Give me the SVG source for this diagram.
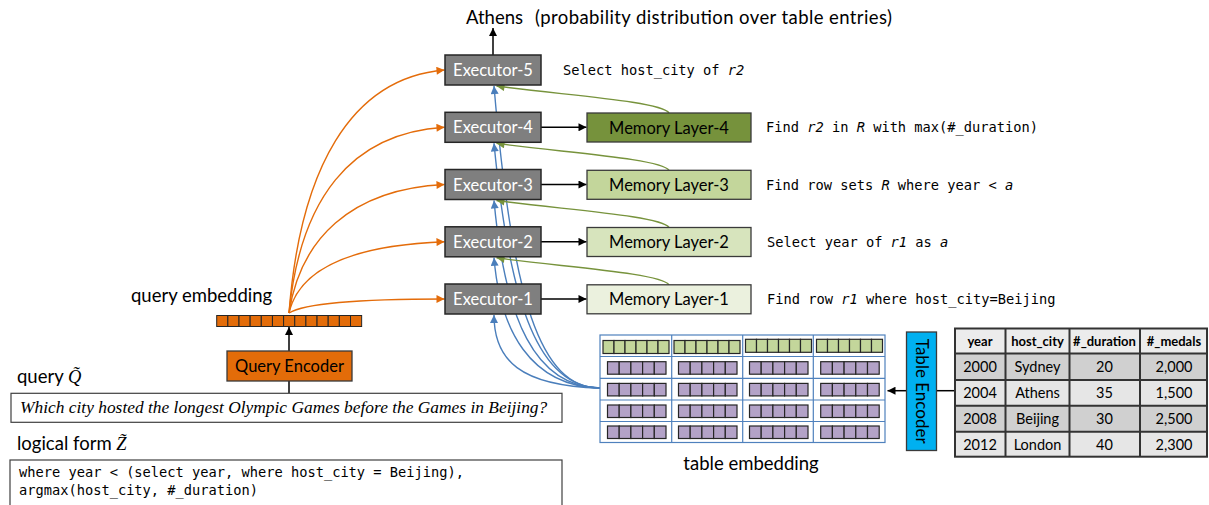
<svg xmlns="http://www.w3.org/2000/svg" width="1209" height="505" viewBox="0 0 1209 505">
  <style>
    .sans { font-family: Lato, "Liberation Sans", sans-serif; }
    .mono { font-family: "DejaVu Sans Mono", "Liberation Mono", monospace; font-size: 13.7px; fill: #000; }
    .exec rect { fill: #7f7f7f; stroke: #262626; stroke-width: 1.5; }
    .exec text { fill: #fff; font-size: 16.5px; text-anchor: middle; }
    .mem rect { stroke: #3a3a3a; stroke-width: 1.3; }
    .mem text { fill: #000; font-size: 16.5px; text-anchor: middle; }
    .orange { fill: none; stroke: #e46c0a; stroke-width: 1.4; marker-end: url(#ah-orange); }
    .blue { fill: none; stroke: #4a7ebb; stroke-width: 1.4; marker-end: url(#ah-blue); }
    .green { fill: none; stroke: #77933c; stroke-width: 1.4; marker-end: url(#ah-green); }
    .black { fill: none; stroke: #000; stroke-width: 1.5; }
    .arrow { marker-end: url(#ah-black); }
    .qcell { fill: #e36c09; stroke: #262626; stroke-width: 1; }
    .gcell { fill: #c3d69b; stroke: #262626; stroke-width: 1.2; }
    .pcell { fill: #b3a2c7; stroke: #262626; stroke-width: 1.2; }
    .grid { fill: none; stroke: #4f81bd; stroke-width: 1.2; }
    .tbl text { font-size: 14.5px; text-anchor: middle; fill: #000; }
    .tbl .hd { font-weight: bold; font-size: 13px; }
    .tline { stroke: #333; stroke-width: 2; }
  </style>
  <defs>
    <marker id="ah-black" viewBox="0 0 10 10" refX="10" refY="5" markerWidth="10" markerHeight="8" markerUnits="userSpaceOnUse" orient="auto">
      <path d="M0,0 L10,5 L0,10 z" fill="#000"/>
    </marker>
    <marker id="ah-orange" viewBox="0 0 10 10" refX="10" refY="5" markerWidth="10" markerHeight="8" markerUnits="userSpaceOnUse" orient="auto">
      <path d="M0,0 L10,5 L0,10 z" fill="#e46c0a"/>
    </marker>
    <marker id="ah-blue" viewBox="0 0 10 10" refX="10" refY="5" markerWidth="10" markerHeight="8" markerUnits="userSpaceOnUse" orient="auto">
      <path d="M0,0 L10,5 L0,10 z" fill="#4a7ebb"/>
    </marker>
    <marker id="ah-green" viewBox="0 0 10 10" refX="10" refY="5" markerWidth="10" markerHeight="8" markerUnits="userSpaceOnUse" orient="auto">
      <path d="M0,0 L10,5 L0,10 z" fill="#77933c"/>
    </marker>
    <!-- one embedding slot: 6 green squares (header) / 5 purple squares (cell) -->
    <g id="hdr-vec">
      <rect class="gcell" x="0" y="0" width="11" height="13"/>
      <rect class="gcell" x="11" y="0" width="11" height="13"/>
      <rect class="gcell" x="22" y="0" width="11" height="13"/>
      <rect class="gcell" x="33" y="0" width="11" height="13"/>
      <rect class="gcell" x="44" y="0" width="11" height="13"/>
      <rect class="gcell" x="55" y="0" width="11" height="13"/>
    </g>
    <g id="cell-vec">
      <rect class="pcell" x="0" y="0" width="11.7" height="12.5"/>
      <rect class="pcell" x="11.7" y="0" width="11.7" height="12.5"/>
      <rect class="pcell" x="23.4" y="0" width="11.7" height="12.5"/>
      <rect class="pcell" x="35.1" y="0" width="11.7" height="12.5"/>
      <rect class="pcell" x="46.8" y="0" width="11.7" height="12.5"/>
    </g>
  </defs>

  <rect x="0" y="0" width="1209" height="505" fill="#fff"/>

  <!-- connectors -->
  <g id="connectors">
    <!-- query embedding to each executor -->
    <path class="orange" d="M289,313 C300,170 350,78 444.5,70"/>
    <path class="orange" d="M289,313 C300,200 350,133 444.5,127.3"/>
    <path class="orange" d="M289,313 C300,240 350,189 444.5,184.5"/>
    <path class="orange" d="M289,313 C300,265 360,245 444.5,241.8"/>
    <path class="orange" d="M289,313 C308,301 380,299 444.5,299"/>

    <!-- table embedding to each executor -->
    <path class="blue" d="M600,388 C540,388 512,300 494,86"/>
    <path class="blue" d="M600,388 C540,387 510,310 494,143.3"/>
    <path class="blue" d="M600,388 C535,387 505,320 494,200.5"/>
    <path class="blue" d="M600,388 C530,386 500,330 494,257.8"/>
    <path class="blue" d="M600,388 C520,386 494,360 494,315"/>

    <!-- memory layers feeding the next executor -->
    <path class="green" d="M669,113 C661,101 560,95 496.5,86"/>
    <path class="green" d="M669,170.3 C661,158.3 560,152.3 496.5,143.3"/>
    <path class="green" d="M669,227.5 C661,215.5 560,209.5 496.5,200.5"/>
    <path class="green" d="M669,284.8 C661,272.8 560,266.8 496.5,257.8"/>

    <!-- executor to memory layer -->
    <line class="black arrow" x1="541" y1="127.3" x2="586.5" y2="127.3"/>
    <line class="black arrow" x1="541" y1="184.5" x2="586.5" y2="184.5"/>
    <line class="black arrow" x1="541" y1="241.8" x2="586.5" y2="241.8"/>
    <line class="black arrow" x1="541" y1="299" x2="586.5" y2="299"/>

    <!-- output of the last executor -->
    <line class="black arrow" x1="493" y1="55" x2="493" y2="28"/>

    <!-- query path -->
    <line class="black" x1="289" y1="393" x2="289" y2="381"/>
    <line class="black arrow" x1="289" y1="351" x2="289" y2="327"/>

    <!-- table path -->
    <line class="black" x1="937" y1="390.7" x2="955" y2="390.7"/>
    <line class="black arrow" x1="906" y1="390.7" x2="887.5" y2="390.7"/>
  </g>

  <!-- title -->
  <g id="output-label" class="sans" font-size="18.5" fill="#000">
    <text x="466" y="24">Athens</text>
    <text x="535" y="24" textLength="357" lengthAdjust="spacing">(probability distribution over table entries)</text>
  </g>

  <!-- executors -->
  <g id="executor-5" class="exec sans">
    <rect x="445" y="55" width="96" height="30"/>
    <text x="493" y="76">Executor-5</text>
  </g>
  <g id="executor-4" class="exec sans">
    <rect x="445" y="112.3" width="96" height="30"/>
    <text x="493" y="133.3">Executor-4</text>
  </g>
  <g id="executor-3" class="exec sans">
    <rect x="445" y="169.5" width="96" height="30"/>
    <text x="493" y="190.5">Executor-3</text>
  </g>
  <g id="executor-2" class="exec sans">
    <rect x="445" y="226.8" width="96" height="30"/>
    <text x="493" y="247.8">Executor-2</text>
  </g>
  <g id="executor-1" class="exec sans">
    <rect x="445" y="284" width="96" height="30"/>
    <text x="493" y="305">Executor-1</text>
  </g>

  <!-- memory layers -->
  <g id="memory-layer-4" class="mem sans">
    <rect x="587" y="113" width="164" height="29" fill="#76923c"/>
    <text x="669" y="133.5">Memory Layer-4</text>
  </g>
  <g id="memory-layer-3" class="mem sans">
    <rect x="587" y="170.3" width="164" height="29" fill="#c3d69b"/>
    <text x="669" y="190.8">Memory Layer-3</text>
  </g>
  <g id="memory-layer-2" class="mem sans">
    <rect x="587" y="227.5" width="164" height="29" fill="#d7e4bd"/>
    <text x="669" y="248">Memory Layer-2</text>
  </g>
  <g id="memory-layer-1" class="mem sans">
    <rect x="587" y="284.8" width="164" height="29" fill="#ebf1de"/>
    <text x="669" y="305.3">Memory Layer-1</text>
  </g>

  <!-- operation descriptions -->
  <g id="descriptions" class="mono">
    <text x="563" y="75">Select host_city of <tspan font-style="italic">r2</tspan></text>
    <text x="766" y="132">Find <tspan font-style="italic">r2</tspan> in <tspan font-style="italic">R</tspan> with max(#_duration)</text>
    <text x="766" y="189.5">Find row sets <tspan font-style="italic">R</tspan> where year &lt; <tspan font-style="italic">a</tspan></text>
    <text x="767" y="247">Select year of <tspan font-style="italic">r1</tspan> as <tspan font-style="italic">a</tspan></text>
    <text x="767" y="304">Find row <tspan font-style="italic">r1</tspan> where host_city=Beijing</text>
  </g>

  <!-- query embedding -->
  <g id="query-embedding">
    <text class="sans" x="131" y="302" font-size="18.5" fill="#000">query embedding</text>
    <rect class="qcell" x="216.7" y="315.5" width="11.15" height="11"/>
    <rect class="qcell" x="227.85" y="315.5" width="11.15" height="11"/>
    <rect class="qcell" x="239" y="315.5" width="11.15" height="11"/>
    <rect class="qcell" x="250.15" y="315.5" width="11.15" height="11"/>
    <rect class="qcell" x="261.3" y="315.5" width="11.15" height="11"/>
    <rect class="qcell" x="272.45" y="315.5" width="11.15" height="11"/>
    <rect class="qcell" x="283.6" y="315.5" width="11.15" height="11"/>
    <rect class="qcell" x="294.75" y="315.5" width="11.15" height="11"/>
    <rect class="qcell" x="305.9" y="315.5" width="11.15" height="11"/>
    <rect class="qcell" x="317.05" y="315.5" width="11.15" height="11"/>
    <rect class="qcell" x="328.2" y="315.5" width="11.15" height="11"/>
    <rect class="qcell" x="339.35" y="315.5" width="11.15" height="11"/>
    <rect class="qcell" x="350.5" y="315.5" width="11.15" height="11"/>
  </g>

  <!-- query encoder -->
  <g id="query-encoder" class="sans">
    <rect x="227" y="351" width="125" height="30" fill="#e36c09" stroke="#3a3a3a" stroke-width="1.3"/>
    <text x="289.5" y="372" font-size="16.5" text-anchor="middle" fill="#000">Query Encoder</text>
  </g>

  <!-- natural language query -->
  <g id="query">
    <text class="sans" x="17" y="383" font-size="18.5" fill="#000">query <tspan font-family="'Liberation Serif', serif" font-style="italic">Q̃</tspan></text>
    <rect x="11" y="393.3" width="551" height="29" fill="#fff" stroke="#404040" stroke-width="1.2"/>
    <text x="20" y="413.3" font-family="'Liberation Serif', serif" font-style="italic" font-size="17.4" fill="#000">Which city hosted the longest Olympic Games before the Games in Beijing?</text>
  </g>

  <!-- logical form -->
  <g id="logical-form">
    <text class="sans" x="17" y="450" font-size="18.5" fill="#000">logical form <tspan font-family="'Liberation Serif', serif" font-style="italic">Z̃</tspan></text>
    <rect x="10" y="460" width="552" height="60" fill="#fff" stroke="#404040" stroke-width="1.2"/>
    <text class="mono" x="19" y="477">where year &lt; (select year, where host_city = Beijing),</text>
    <text class="mono" x="19" y="495">argmax(host_city, #_duration)</text>
  </g>

  <!-- table embedding -->
  <g id="table-embedding">
    <rect class="grid" x="600" y="335" width="285" height="107.5"/>
    <line class="grid" x1="671.7" y1="335" x2="671.7" y2="442.5"/>
    <line class="grid" x1="742.7" y1="335" x2="742.7" y2="442.5"/>
    <line class="grid" x1="813.3" y1="335" x2="813.3" y2="442.5"/>
    <line class="grid" x1="600" y1="356.5" x2="885" y2="356.5"/>
    <line class="grid" x1="600" y1="378.3" x2="885" y2="378.3"/>
    <line class="grid" x1="600" y1="400" x2="885" y2="400"/>
    <line class="grid" x1="600" y1="421.5" x2="885" y2="421.5"/>

    <use href="#hdr-vec" x="603" y="340.5"/>
    <use href="#hdr-vec" x="674" y="340.5"/>
    <use href="#hdr-vec" x="745.5" y="339.3"/>
    <use href="#hdr-vec" x="816.5" y="339.3"/>

    <use href="#cell-vec" x="607.5" y="361.7"/>
    <use href="#cell-vec" x="678.5" y="361.7"/>
    <use href="#cell-vec" x="749.5" y="361.7"/>
    <use href="#cell-vec" x="820.7" y="361.7"/>
    <use href="#cell-vec" x="607.5" y="383.4"/>
    <use href="#cell-vec" x="678.5" y="383.4"/>
    <use href="#cell-vec" x="749.5" y="383.4"/>
    <use href="#cell-vec" x="820.7" y="383.4"/>
    <use href="#cell-vec" x="607.5" y="405"/>
    <use href="#cell-vec" x="678.5" y="405"/>
    <use href="#cell-vec" x="749.5" y="405"/>
    <use href="#cell-vec" x="820.7" y="405"/>
    <use href="#cell-vec" x="607.5" y="426"/>
    <use href="#cell-vec" x="678.5" y="426"/>
    <use href="#cell-vec" x="749.5" y="426"/>
    <use href="#cell-vec" x="820.7" y="426"/>

    <text class="sans" x="751" y="470" font-size="18.5" text-anchor="middle" fill="#000">table embedding</text>
  </g>

  <!-- table encoder -->
  <g id="table-encoder" class="sans">
    <rect x="906.5" y="332" width="30" height="118.5" fill="#00b0f0" stroke="#3a3a3a" stroke-width="1.3"/>
    <text transform="translate(915.5,391.2) rotate(90)" font-size="17" text-anchor="middle" fill="#000">Table Encoder</text>
  </g>

  <!-- source table -->
  <g id="table" class="tbl sans">
    <rect x="955" y="328.5" width="252" height="25" fill="#ececec"/>
    <rect x="955" y="353.5" width="252" height="26.5" fill="#d0d0d0"/>
    <rect x="955" y="380" width="252" height="25.7" fill="#e6e6e6"/>
    <rect x="955" y="405.7" width="252" height="26" fill="#d0d0d0"/>
    <rect x="955" y="431.7" width="252" height="25" fill="#e6e6e6"/>
    <rect x="955" y="328.5" width="252" height="128.2" fill="none" class="tline"/>
    <line class="tline" x1="1005.5" y1="328.5" x2="1005.5" y2="456.7"/>
    <line class="tline" x1="1069.5" y1="328.5" x2="1069.5" y2="456.7"/>
    <line class="tline" x1="1140" y1="328.5" x2="1140" y2="456.7"/>
    <line class="tline" x1="955" y1="353.5" x2="1207" y2="353.5"/>
    <line class="tline" x1="955" y1="380" x2="1207" y2="380"/>
    <line class="tline" x1="955" y1="405.7" x2="1207" y2="405.7"/>
    <line class="tline" x1="955" y1="431.7" x2="1207" y2="431.7"/>

    <text class="hd" x="980" y="346">year</text>
    <text class="hd" x="1037.5" y="346">host_city</text>
    <text class="hd" x="1104.5" y="346">#_duration</text>
    <text class="hd" x="1174" y="346">#_medals</text>

    <text x="980" y="372">2000</text>
    <text x="1037.5" y="372">Sydney</text>
    <text x="1104.5" y="372">20</text>
    <text x="1174" y="372">2,000</text>

    <text x="980" y="398">2004</text>
    <text x="1037.5" y="398">Athens</text>
    <text x="1104.5" y="398">35</text>
    <text x="1174" y="398">1,500</text>

    <text x="980" y="424">2008</text>
    <text x="1037.5" y="424">Beijing</text>
    <text x="1104.5" y="424">30</text>
    <text x="1174" y="424">2,500</text>

    <text x="980" y="449.5">2012</text>
    <text x="1037.5" y="449.5">London</text>
    <text x="1104.5" y="449.5">40</text>
    <text x="1174" y="449.5">2,300</text>
  </g>
</svg>
